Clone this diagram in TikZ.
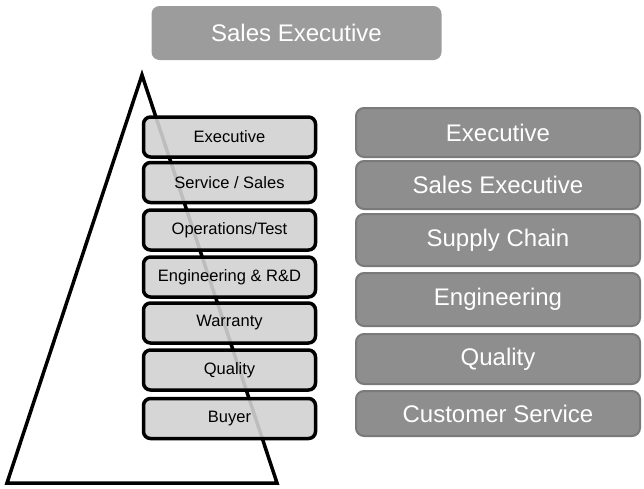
\documentclass[tikz,border=0pt]{standalone}
\usepackage{fontspec}
\setmainfont{Liberation Sans}
\definecolor{roleFill}{HTML}{D2D2D2}
\definecolor{deptFill}{HTML}{8E8E8E}
\definecolor{deptEdge}{HTML}{7A7A7A}
\definecolor{headFill}{HTML}{9C9C9C}
\begin{document}
\begin{tikzpicture}[x=1pt,y=-1pt,
  role/.style={draw=black, line width=3.5pt, fill=roleFill, fill opacity=0.9, text opacity=1,
    rounded corners=7pt, minimum width=172pt, minimum height=40pt, inner sep=0pt,
    font=\fontsize{16.5}{19}\selectfont},
  dept/.style={draw=deptEdge, line width=2pt, fill=deptFill, rounded corners=8pt,
    minimum width=284pt, inner sep=0pt, text=white, font=\fontsize{24}{28}\selectfont},
  head/.style={fill=headFill, rounded corners=8pt, minimum width=290pt, minimum height=54pt,
    inner sep=0pt, text=white, font=\fontsize{24}{28}\selectfont}]
\useasboundingbox (0,0) rectangle (644,488);
\fill[white] (0,0) rectangle (644,488);

% pyramid outline behind the role stack
\draw[line width=3.5pt, line join=miter] (142,75) -- (277,483) -- (7,483) -- cycle;

% heading
\node[head] (top) at (296.5,33) {Sales Executive};

% role stack
\node[role] (r1) at (229.5,137) {Executive};
\node[role] (r2) at (229.5,182.5) {Service / Sales};
\node[role] (r3) at (229.5,230) {Operations/Test};
\node[role] (r4) at (229.5,277) {Engineering \& R\&D};
\node[role] (r5) at (229.5,323) {Warranty};
\node[role] (r6) at (229.5,370) {Quality};
\node[role] (r7) at (229.5,418.5) {Buyer};

% departments
\node[dept, minimum height=49pt] (d1) at (498,132.5) {Executive};
\node[dept, minimum height=48pt] (d2) at (498,185) {Sales Executive};
\node[dept, minimum height=52pt] (d3) at (498,240) {Supply Chain};
\node[dept, minimum height=53pt] (d4) at (498,299.5) {Engineering};
\node[dept, minimum height=50pt] (d5) at (498,359) {Quality};
\node[dept, minimum height=45pt] (d6) at (498,413.5) {Customer Service};
\end{tikzpicture}
\end{document}
